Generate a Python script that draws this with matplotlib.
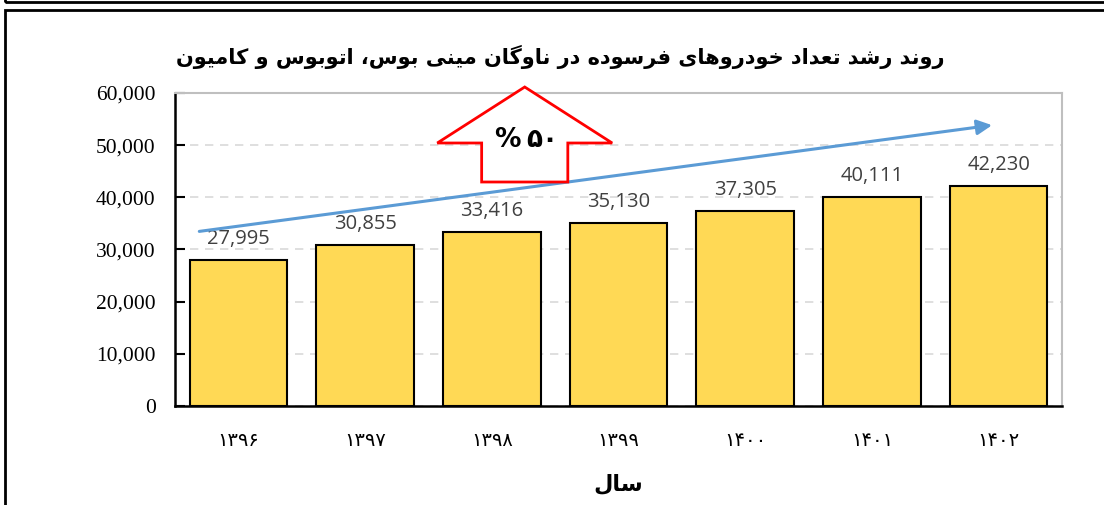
import matplotlib
matplotlib.use('Agg')
from matplotlib import pyplot as plt
from matplotlib.patches import Polygon, Rectangle
from matplotlib.ticker import FuncFormatter

years = ['۱۳۹۶', '۱۳۹۷', '۱۳۹۸', '۱۳۹۹', '۱۴۰۰', '۱۴۰۱', '۱۴۰۲']
values = [27995, 30855, 33416, 35130, 37305, 40111, 42230]

title = 'روند رشد تعداد خودروهای فرسوده در ناوگان مینی بوس، اتوبوس و کامیون'
xlabel = 'سال'
growth_pct = '%'
growth_num = '۵۰'

# isolated, final, initial, medial
forms = {
    'ا': ('\uFE8D', '\uFE8E', None, None),
    'ب': ('\uFE8F', '\uFE90', '\uFE91', '\uFE92'),
    'ت': ('\uFE95', '\uFE96', '\uFE97', '\uFE98'),
    'خ': ('\uFEA5', '\uFEA6', '\uFEA7', '\uFEA8'),
    'د': ('\uFEA9', '\uFEAA', None, None),
    'ر': ('\uFEAD', '\uFEAE', None, None),
    'س': ('\uFEB1', '\uFEB2', '\uFEB3', '\uFEB4'),
    'ش': ('\uFEB5', '\uFEB6', '\uFEB7', '\uFEB8'),
    'ع': ('\uFEC9', '\uFECA', '\uFECB', '\uFECC'),
    'ف': ('\uFED1', '\uFED2', '\uFED3', '\uFED4'),
    'ل': ('\uFEDD', '\uFEDE', '\uFEDF', '\uFEE0'),
    'م': ('\uFEE1', '\uFEE2', '\uFEE3', '\uFEE4'),
    'ن': ('\uFEE5', '\uFEE6', '\uFEE7', '\uFEE8'),
    'ه': ('\uFEE9', '\uFEEA', '\uFEEB', '\uFEEC'),
    'و': ('\uFEED', '\uFEEE', None, None),
    'ی': ('\uFBFC', '\uFBFD', '\uFBFE', '\uFBFF'),
    'ک': ('\uFB8E', '\uFB8F', '\uFB90', '\uFB91'),
    'گ': ('\uFB92', '\uFB93', '\uFB94', '\uFB95'),
}


def rtl(text):
    out = []
    for i, ch in enumerate(text):
        if ch not in forms:
            out.append(ch)
            continue
        prev = text[i - 1] if i > 0 else ''
        nxt = text[i + 1] if i + 1 < len(text) else ''
        join_prev = prev in forms and forms[prev][2] is not None
        join_next = forms[ch][2] is not None and nxt in forms
        iso, fin, ini, med = forms[ch]
        if join_prev and join_next:
            out.append(med)
        elif join_prev:
            out.append(fin)
        elif join_next:
            out.append(ini)
        else:
            out.append(iso)
    return ''.join(out)[::-1]


fig = plt.figure(figsize=(11.04, 5.05), dpi=100)
ax = fig.add_axes([175 / 1104, 1 - 406 / 505, 887 / 1104, 313 / 505])

x = range(len(years))
bars = ax.bar(x, values, width=0.77, color='#FFD955', edgecolor='black', linewidth=1.5, zorder=3)

for xi, v in zip(x, values):
    ax.annotate(f'{v:,}', (xi, v), xytext=(0, 8), textcoords='offset points',
                ha='center', va='bottom', fontsize=14.5, color='#404040',
                family='Open Sans', zorder=4)

ax.set_xlim(-0.5, len(years) - 0.5)
ax.set_ylim(0, 60000)
ax.set_yticks(range(0, 60001, 10000))
ax.yaxis.set_major_formatter(FuncFormatter(lambda v, p: f'{int(v):,}'))
ax.yaxis.grid(True, linestyle=(0, (5, 4)), color='#D9D9D9', linewidth=1.2, zorder=0)
ax.set_xticks(list(x))
ax.set_xticklabels(years, family='DejaVu Sans', fontsize=14)
ax.tick_params(axis='x', length=0, pad=18)
ax.tick_params(axis='y', direction='in', length=7, width=1.5, pad=14)
for lbl in ax.get_yticklabels():
    lbl.set_family('Liberation Serif')
    lbl.set_fontsize(15.5)

for s in ['left', 'bottom']:
    ax.spines[s].set_linewidth(1.8)
    ax.spines[s].set_color('black')
for s in ['top', 'right']:
    ax.spines[s].set_linewidth(1.5)
    ax.spines[s].set_color('#BFBFBF')

ax.set_xlabel(rtl(xlabel), family='DejaVu Sans', fontweight='bold', fontsize=16, labelpad=17)

# trend arrow
ax.annotate('', xy=(5.97, 53900), xytext=(-0.33, 33400),
            arrowprops=dict(arrowstyle='-|>,head_length=0.9,head_width=0.45',
                            color='#5B9BD5', lw=2.2), zorder=5)

# block arrow
bx, half_shaft, half_head = 2.26, 0.34, 0.69
y0, y_wing, y_tip = 42940, 50415, 61150
block = Polygon([(bx - half_shaft, y0), (bx - half_shaft, y_wing), (bx - half_head, y_wing),
                 (bx, y_tip), (bx + half_head, y_wing), (bx + half_shaft, y_wing),
                 (bx + half_shaft, y0)], closed=True, facecolor='white',
                edgecolor='red', linewidth=2, zorder=6, clip_on=False)
ax.add_patch(block)
ax.text(bx - 0.03, 51000, growth_pct, ha='right', va='center', fontsize=19,
        fontweight='bold', family='DejaVu Sans', zorder=7)
ax.text(bx + 0.01, 51000, growth_num, ha='left', va='center', fontsize=19,
        fontweight='bold', family='DejaVu Sans', zorder=7)

fig.text(560 / 1104, 1 - 57 / 505, rtl(title), ha='center', va='center',
         fontsize=15, fontweight='bold', family='DejaVu Sans')

# outer frames
fig.patches.append(Rectangle((5 / 1104, 1 - 2 / 505), 1.2, 1, transform=fig.transFigure,
                             fill=False, edgecolor='black', linewidth=2, clip_on=False))
fig.patches.append(Rectangle((5 / 1104, -1), 1.2, 2 - 10 / 505, transform=fig.transFigure,
                             fill=False, edgecolor='black', linewidth=2, clip_on=False))

fig.savefig('out.png', dpi=100)
